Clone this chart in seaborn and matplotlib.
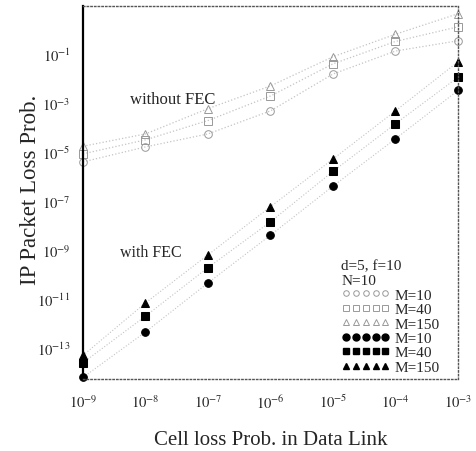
import numpy as np
import pandas as pd
import seaborn as sns
import matplotlib.pyplot as plt
from matplotlib.lines import Line2D
from matplotlib.ticker import NullFormatter, NullLocator

# cell loss probability in the data link (x axis)
cell_loss = [1e-9, 1e-8, 1e-7, 1e-6, 1e-5, 1e-4, 1e-3]
x_labels = ["$10^{-9}$", "$10^{-8}$", "$10^{-7}$", "$10^{-6}$", "$10^{-5}$", "$10^{-4}$", "$10^{-3}$"]
y_ticks = [1e-1, 1e-3, 1e-5, 1e-7, 1e-9, 1e-11, 1e-13]
y_labels = ["$10^{-1}$", "$10^{-3}$", "$10^{-5}$", "$10^{-7}$", "$10^{-9}$", "$10^{-11}$", "$10^{-13}$"]

# IP packet loss, without FEC (open markers)
nofec_m10 = [3.9e-6, 1.6e-5, 5.4e-5, 4.7e-4, 1.5e-2, 0.13, 0.34]
nofec_m40 = [8.3e-6, 3.1e-5, 1.9e-4, 1.9e-3, 3.9e-2, 0.32, 1.26]
nofec_m150 = [1.7e-5, 5.4e-5, 5.8e-4, 4.9e-3, 7.6e-2, 0.63, 4.3]

# IP packet loss, with FEC (filled markers)
fec_m10 = [6.3e-15, 4.5e-13, 4.5e-11, 4.0e-9, 4.0e-7, 3.4e-5, 3.2e-3]
fec_m40 = [2.5e-14, 2.0e-12, 1.9e-10, 1.4e-8, 1.6e-6, 1.4e-4, 1.1e-2]
fec_m150 = [5.0e-14, 6.9e-12, 6.3e-10, 5.8e-8, 5.1e-6, 4.7e-4, 4.7e-2]

series_labels = ["M=10", "M=40", "M=150"]

sns.set_style("white")
plt.rcParams["font.family"] = ["Liberation Serif", "DejaVu Serif"]
plt.rcParams["mathtext.fontset"] = "stix"

fig = plt.figure(figsize=(4.77, 4.52), dpi=100)
ax = fig.add_axes([0.174, 0.159, 0.786, 0.826])

markers = ["o", "s", "^"]
handles = []
for vals, mk, lab in zip([nofec_m10, nofec_m40, nofec_m150], markers, series_labels):
    sns.lineplot(x=cell_loss, y=vals, ax=ax, color="#c4c4c4", linestyle=":", linewidth=0.9,
                 marker=mk, markersize=5.5, markerfacecolor="none", markeredgecolor="#999999",
                 markeredgewidth=0.7, clip_on=False)
    handles.append(Line2D([], [], linestyle="none", marker=mk, markersize=4,
                          markerfacecolor="none", markeredgecolor="#999999", markeredgewidth=0.7,
                          label=lab))
for vals, mk, lab in zip([fec_m10, fec_m40, fec_m150], markers, series_labels):
    sns.lineplot(x=cell_loss, y=vals, ax=ax, color="#c4c4c4", linestyle=":", linewidth=0.8,
                 marker=mk, markersize=5.5, markerfacecolor="black", markeredgecolor="black",
                 clip_on=False)
    handles.append(Line2D([], [], linestyle="none", marker=mk, markersize=5,
                          color="black", label=lab))

ax.set_xscale("log")
ax.set_yscale("log")
ax.set_xlim(1e-9, 1e-3)
ax.set_ylim(10 ** -14.27, 10 ** 0.96)

ax.set_xticks(cell_loss)
ax.set_xticklabels(x_labels)
ax.xaxis.set_minor_locator(NullLocator())
ax.set_yticks(y_ticks)
ax.set_yticklabels(y_labels)
ax.set_yticks([10.0 ** k for k in range(-14, 1)], minor=True)
ax.yaxis.set_minor_formatter(NullFormatter())
ax.tick_params(axis="x", length=0, labelsize=10.5, pad=10)
ax.tick_params(axis="y", which="major", direction="in", length=4, width=1, labelsize=10.5, pad=9)
ax.tick_params(axis="y", which="minor", direction="in", length=3, width=0.8)

for side in ["top", "right", "bottom"]:
    ax.spines[side].set_linestyle(":")
    ax.spines[side].set_color("#555555")
    ax.spines[side].set_linewidth(1)
ax.spines["left"].set_color("black")
ax.spines["left"].set_linewidth(1.6)

ax.set_xlabel("Cell loss Prob. in Data Link", fontsize=15, labelpad=14)
ax.set_ylabel("IP Packet Loss Prob.", fontsize=16.5)
ax.yaxis.set_label_coords(-0.112, 0.51)

ax.text(5.6e-9, 10 ** -2.84, "without FEC", fontsize=12, va="center")
ax.text(3.9e-9, 10 ** -9.08, "with FEC", fontsize=11.5, va="center")

leg = ax.legend(handles=handles, title="d=5, f=10\nN=10", loc="upper left",
                bbox_to_anchor=(0.66, 0.35), frameon=False, numpoints=5,
                handlelength=3.2, handletextpad=0.3, labelspacing=0.05,
                fontsize=11, title_fontsize=11, borderpad=0.2)
leg._legend_box.align = "left"

fig.savefig("out.png", dpi=100)
